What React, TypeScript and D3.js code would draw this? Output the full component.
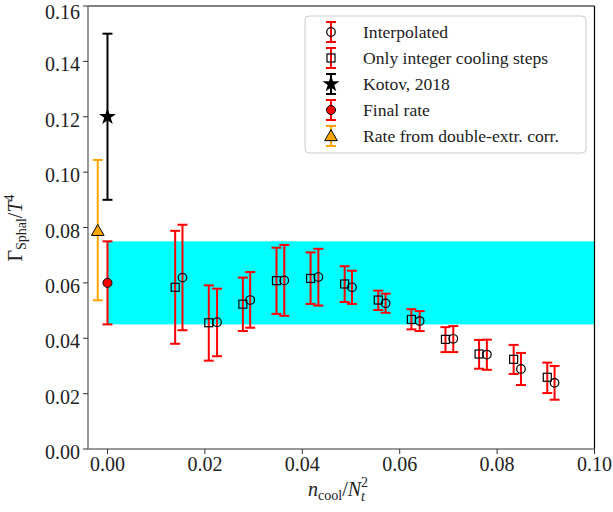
import React from 'react'
import * as d3 from 'd3'

// interpolated points (circles)
const circleX = [0.0154, 0.0225, 0.0293, 0.0363, 0.0433, 0.0502, 0.0571, 0.0641, 0.071, 0.0779, 0.0849, 0.0918]
const circleY = [0.0619, 0.0458, 0.0538, 0.0609, 0.0621, 0.0584, 0.0526, 0.0462, 0.0398, 0.0341, 0.0289, 0.0239]
const circleLo = [0.0429, 0.0335, 0.0438, 0.0481, 0.0518, 0.0524, 0.0492, 0.0426, 0.035, 0.0286, 0.0231, 0.0178]
const circleHi = [0.081, 0.0579, 0.0639, 0.0737, 0.0723, 0.0644, 0.0561, 0.0498, 0.0444, 0.0395, 0.0347, 0.03]

// only integer cooling steps (squares)
const squareX = [0.0139, 0.0208, 0.0278, 0.0347, 0.0417, 0.0487, 0.0556, 0.0624, 0.0694, 0.0763, 0.0834, 0.0903]
const squareY = [0.0584, 0.0456, 0.0523, 0.0608, 0.0616, 0.0596, 0.0538, 0.0468, 0.0396, 0.0343, 0.0324, 0.0259]
const squareLo = [0.038, 0.0319, 0.0426, 0.0488, 0.0524, 0.0531, 0.0502, 0.0432, 0.035, 0.029, 0.0271, 0.0202]
const squareHi = [0.0788, 0.0591, 0.0619, 0.0727, 0.071, 0.066, 0.0572, 0.0505, 0.044, 0.0394, 0.0376, 0.0312]

// single points: [x, y, lo, hi]
const kotov = [0, 0.12, 0.09, 0.15]
const finalRate = [0, 0.06, 0.045, 0.075]
const doubleExtr = [-0.002, 0.0788, 0.0537, 0.1044]
const band = [0, 0.1, 0.045, 0.075]

const xTicks = [0, 0.02, 0.04, 0.06, 0.08, 0.1]
const yTicks = [0, 0.02, 0.04, 0.06, 0.08, 0.1, 0.12, 0.14, 0.16]

const legendLabels = [
	'Interpolated',
	'Only integer cooling steps',
	'Kotov, 2018',
	'Final rate',
	'Rate from double-extr. corr.',
]

const font = '"Liberation Serif", "DejaVu Serif", serif'

const left = 88,
	right = 594.5,
	top = 6,
	bottom = 449

const x = d3.scaleLinear().domain([-0.004, 0.1]).range([left, right])
const y = d3.scaleLinear().domain([0, 0.16]).range([bottom, top])

const starPath = d3.symbol().type(d3.symbolStar).size(90)()!
const triPath = d3.symbol().type(d3.symbolTriangle).size(70)()!

const ErrBar = ({ cx, y0, y1, color }: { cx: number; y0: number; y1: number; color: string }) => (
	<g stroke={color} strokeWidth={2}>
		<line x1={cx} x2={cx} y1={y0} y2={y1} />
		<line x1={cx - 5} x2={cx + 5} y1={y0} y2={y0} />
		<line x1={cx - 5} x2={cx + 5} y1={y1} y2={y1} />
	</g>
)

const Marker = ({ kind, cx, cy }: { kind: number; cx: number; cy: number }) => {
	if (kind === 0) return <circle cx={cx} cy={cy} r={4.3} fill="none" stroke="black" strokeWidth={1.2} />
	if (kind === 1)
		return <rect x={cx - 4} y={cy - 4} width={8} height={8} fill="none" stroke="black" strokeWidth={1.2} />
	if (kind === 2) return <path d={starPath} transform={`translate(${cx},${cy})`} fill="black" />
	if (kind === 3) return <circle cx={cx} cy={cy} r={4.5} fill="red" stroke="black" strokeWidth={1} />
	return <path d={triPath} transform={`translate(${cx},${cy + 1})`} fill="orange" stroke="black" strokeWidth={1} />
}

const App = () => {
	const legendColors = ['red', 'red', 'black', 'red', 'orange']
	return (
		<svg width={613} height={512} style={{ display: 'block', position: 'absolute', left: 0, top: 0 }} fontFamily={font}>
			<rect x={0} y={0} width={613} height={512} fill="white" />
			{/* band */}
			<rect
				x={x(band[0])}
				width={x(band[1]) - x(band[0])}
				y={y(band[3])}
				height={y(band[2]) - y(band[3])}
				fill="#00ffff"
			/>
			{/* squares */}
			{squareX.map((d, i) => (
				<ErrBar key={'se' + i} cx={x(d)} y0={y(squareLo[i])} y1={y(squareHi[i])} color="red" />
			))}
			{squareX.map((d, i) => (
				<Marker key={'sm' + i} kind={1} cx={x(d)} cy={y(squareY[i])} />
			))}
			{/* circles */}
			{circleX.map((d, i) => (
				<ErrBar key={'ce' + i} cx={x(d)} y0={y(circleLo[i])} y1={y(circleHi[i])} color="red" />
			))}
			{circleX.map((d, i) => (
				<Marker key={'cm' + i} kind={0} cx={x(d)} cy={y(circleY[i])} />
			))}
			<ErrBar cx={x(kotov[0])} y0={y(kotov[2])} y1={y(kotov[3])} color="black" />
			<Marker kind={2} cx={x(kotov[0])} cy={y(kotov[1])} />
			<ErrBar cx={x(finalRate[0])} y0={y(finalRate[2])} y1={y(finalRate[3])} color="red" />
			<Marker kind={3} cx={x(finalRate[0])} cy={y(finalRate[1])} />
			<ErrBar cx={x(doubleExtr[0])} y0={y(doubleExtr[2])} y1={y(doubleExtr[3])} color="orange" />
			<Marker kind={4} cx={x(doubleExtr[0])} cy={y(doubleExtr[1])} />

			{/* spines */}
			<line x1={left} x2={right} y1={top} y2={top} stroke="black" strokeWidth={1.2} />
			<line x1={right} x2={right} y1={top} y2={bottom} stroke="black" strokeWidth={1.2} />
			<line x1={left} x2={left} y1={top} y2={bottom} stroke="#777" strokeWidth={1.5} />
			<line x1={left} x2={right} y1={bottom} y2={bottom} stroke="#777" strokeWidth={1.5} />

			{/* ticks */}
			{yTicks.map((t) => (
				<g key={'yt' + t}>
					<line x1={left - 5} x2={left} y1={y(t)} y2={y(t)} stroke="#333" strokeWidth={1} />
					{/* keep the top label inside the picture */}
					<text x={left - 8} y={Math.max(y(t), 9)} dy="0.5em" textAnchor="end" fontSize={20} fill="#222">
						{t.toFixed(2)}
					</text>
				</g>
			))}
			{xTicks.map((t) => (
				<g key={'xt' + t}>
					<line x1={x(t)} x2={x(t)} y1={bottom} y2={bottom + 5} stroke="#333" strokeWidth={1} />
					<text x={x(t)} y={bottom + 22} textAnchor="middle" fontSize={20} fill="#222">
						{t.toFixed(2)}
					</text>
				</g>
			))}

			{/* axis labels */}
			<text x={338} y={496} textAnchor="middle" fontSize={20} fill="#222">
				<tspan fontStyle="italic">n</tspan>
				<tspan fontSize={14} dy={4}>cool</tspan>
				<tspan dy={-4}>/</tspan>
				<tspan fontStyle="italic">N</tspan>
				<tspan fontSize={14} fontStyle="italic" dy={5}>t</tspan>
				<tspan fontSize={14} dx={-4} dy={-14}>2</tspan>
			</text>
			<text transform="translate(22,228) rotate(-90)" textAnchor="middle" fontSize={20} fill="#222">
				<tspan>Γ</tspan>
				<tspan fontSize={14} dy={4}>Sphal</tspan>
				<tspan dy={-4}>/</tspan>
				<tspan fontStyle="italic">T</tspan>
				<tspan fontSize={14} dy={-8}>4</tspan>
			</text>

			{/* legend */}
			<rect x={305} y={16} width={281} height={137} rx={4} fill="white" fillOpacity={0.8} stroke="#ccc" />
			{legendLabels.map((l, i) => {
				const ly = 32 + i * 26
				return (
					<g key={l}>
						<ErrBar cx={331} y0={ly - 10} y1={ly + 10} color={legendColors[i]} />
						<Marker kind={i} cx={331} cy={ly} />
						<text x={363} y={ly} dy="0.33em" fontSize={17.6} fill="#222">
							{l}
						</text>
					</g>
				)
			})}
		</svg>
	)
}

export default App
